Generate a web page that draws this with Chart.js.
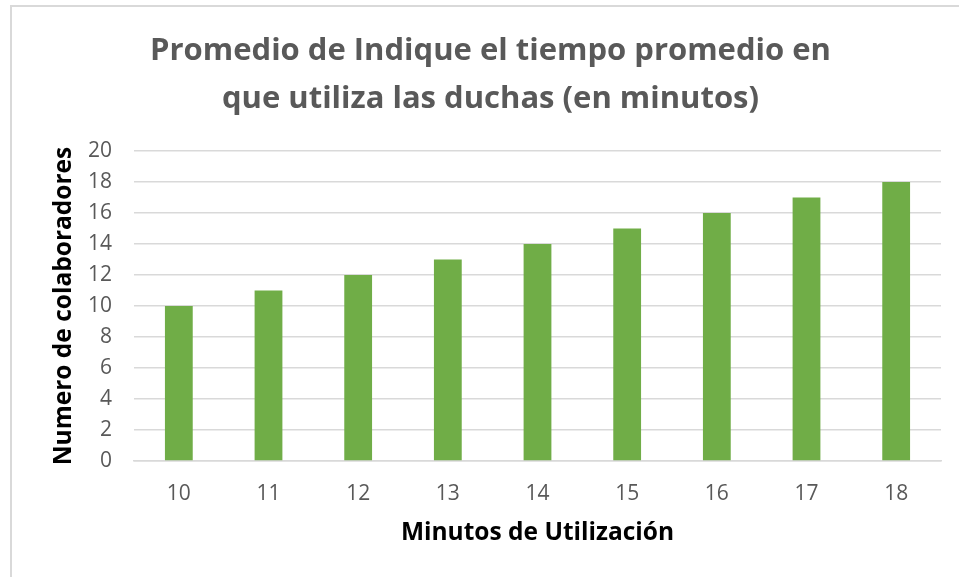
<!DOCTYPE html>
<html>
<head>
<meta charset="utf-8">
<script src="https://cdn.jsdelivr.net/npm/chart.js@4/dist/chart.umd.min.js"></script>
<style>
html,body{margin:0;padding:0;background:#fff;overflow:hidden;width:959px;height:577px;}
#wrap{position:absolute;left:0;top:0;width:959px;height:577px;}
#frame{position:absolute;left:10px;top:5px;width:1200px;height:1200px;border-left:2px solid #d9d9d9;border-top:2px solid #d9d9d9;pointer-events:none;}
</style>
</head>
<body>
<div id="wrap"><canvas id="c" width="959" height="577"></canvas></div>
<div id="frame"></div>
<script>
const categories = ['10','11','12','13','14','15','16','17','18'];
const colaboradores = [10, 11, 12, 13, 14, 15, 16, 17, 18];
const yTicks = [0, 2, 4, 6, 8, 10, 12, 14, 16, 18, 20];
const titleLines = ['Promedio de Indique el tiempo promedio en', 'que utiliza las duchas (en minutos)'];
const xTitle = 'Minutos de Utilización';
const yTitle = 'Numero de colaboradores';

const FONT = "'Open Sans', sans-serif";

new Chart(document.getElementById('c'), {
  type: 'bar',
  data: {
    labels: categories,
    datasets: [{
      label: 'Total',
      data: colaboradores,
      backgroundColor: '#70ad47',
      borderWidth: 0,
      barPercentage: 0.31,
      categoryPercentage: 1.0
    }]
  },
  options: {
    responsive: false,
    animation: false,
    layout: { padding: { top: 0, right: 18, bottom: 0, left: 40 } },
    plugins: {
      legend: { display: false },
      tooltip: { enabled: false },
      title: {
        display: true,
        text: titleLines,
        color: '#595959',
        font: { family: FONT, size: 31, weight: 'bold', lineHeight: 1.55 },
        padding: { top: 27, bottom: 28 }
      }
    },
    scales: {
      x: {
        grid: { display: false, drawTicks: false },
        border: { display: true, color: '#d9d9d9', width: 1.5 },
        ticks: { color: '#595959', font: { family: FONT, size: 21 }, padding: 20 },
        title: {
          display: true, text: xTitle, color: '#000',
          font: { family: FONT, size: 24.5, weight: 'bold', lineHeight: 1.2 },
          padding: { top: 0, bottom: 29 }
        },
        afterFit: (s) => { s.height = 116; }
      },
      y: {
        min: 0, max: 20,
        afterBuildTicks: (s) => { s.ticks = yTicks.map(v => ({ value: v })); },
        grid: { color: '#d9d9d9', lineWidth: 1.5, drawTicks: false },
        border: { display: false },
        ticks: { color: '#595959', font: { family: FONT, size: 21 }, padding: 22 },
        title: {
          display: true, text: yTitle, color: '#000',
          font: { family: FONT, size: 24.5, weight: 'bold', lineHeight: 1.2 },
          padding: { top: 9, bottom: 0 }
        },
        afterFit: (s) => { s.width = 94; }
      }
    }
  }
});
</script>
</body>
</html>
